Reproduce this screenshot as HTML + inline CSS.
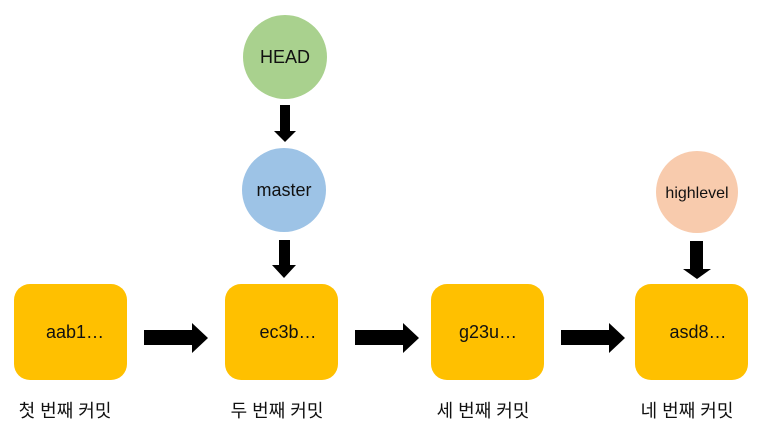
<!DOCTYPE html>
<html><head><meta charset="utf-8"><style>
html,body{margin:0;padding:0;background:#fff;width:773px;height:436px;overflow:hidden}
svg text{font-family:"Liberation Sans","Noto Sans CJK KR",sans-serif;fill:#111}
</style></head><body>
<svg width="773" height="436" viewBox="0 0 773 436">
<g fill="#FFC000">
<rect x="14" y="284" width="113" height="96" rx="16"/>
<rect x="225" y="284" width="113" height="96" rx="16"/>
<rect x="431" y="284" width="113" height="96" rx="16"/>
<rect x="635" y="284" width="113" height="96" rx="16"/>
</g>
<circle cx="285" cy="57" r="42" fill="#A9D18E"/>
<circle cx="284" cy="190" r="42" fill="#9DC3E6"/>
<circle cx="697" cy="192" r="41" fill="#F8CBAD"/>
<g fill="#000">
<polygon points="144,330 192,330 192,323 208,338 192,353 192,345 144,345"/>
<polygon points="355,330 403,330 403,323 419,338 403,353 403,345 355,345"/>
<polygon points="561,330 609,330 609,323 625,338 609,353 609,345 561,345"/>
<polygon points="280,105 290,105 290,131 296,131 285,142 274,131 280,131"/>
<polygon points="279,240 290,240 290,265 296,265 284,278 272,265 279,265"/>
<polygon points="690,241 703,241 703,269 711,269 697,279 683,269 690,269"/>
</g>
<g font-size="18" text-anchor="middle">
<text x="75" y="338">aab1…</text>
<text x="288" y="338">ec3b…</text>
<text x="488" y="338">g23u…</text>
<text x="698" y="338">asd8…</text>
<text x="285" y="63">HEAD</text>
<text x="284" y="196">master</text>
<text x="697" y="198" font-size="16">highlevel</text>
</g>
<g font-size="18" text-anchor="middle">
<text x="65" y="417">첫 번째 커밋</text>
<text x="277" y="417">두 번째 커밋</text>
<text x="483" y="417">세 번째 커밋</text>
<text x="687" y="417">네 번째 커밋</text>
</g>
</svg>
</body></html>
